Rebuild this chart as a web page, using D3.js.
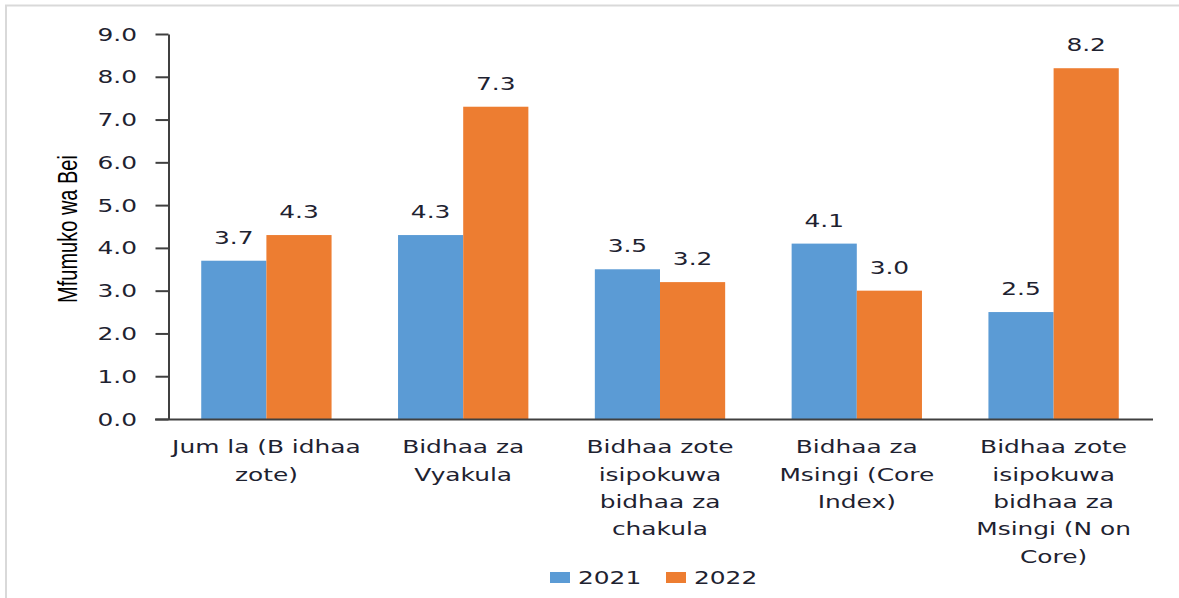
<!DOCTYPE html>
<html>
<head>
<meta charset="utf-8">
<script src="https://cdn.jsdelivr.net/npm/d3@7"></script>
<style>
  body { margin: 0; background: #fff; }
</style>
</head>
<body>
<div id="chart"></div>
<script>
// data
const categories = [
  ["Jum la (B idhaa", "zote)"],
  ["Bidhaa za", "Vyakula"],
  ["Bidhaa zote", "isipokuwa", "bidhaa za", "chakula"],
  ["Bidhaa za", "Msingi (Core", "Index)"],
  ["Bidhaa zote", "isipokuwa", "bidhaa za", "Msingi (N on", "Core)"]
];
const series = ["2021", "2022"];
const values2021 = [3.7, 4.3, 3.5, 4.1, 2.5];
const values2022 = [4.3, 7.3, 3.2, 3.0, 8.2];
const yTicks = [0, 1, 2, 3, 4, 5, 6, 7, 8, 9];
const colors = ["#5B9BD5", "#ED7D31"];

const width = 1179, height = 598;
const sx = 1.38; // the original text is drawn wide
const font = "Verdana, 'DejaVu Sans', sans-serif";
const textColor = "#1e2230";

const svg = d3.select("#chart").append("svg")
    .attr("width", width)
    .attr("height", height);

// outer frame
svg.append("rect")
    .attr("x", 6).attr("y", 5.5)
    .attr("width", width).attr("height", height)
    .attr("fill", "none")
    .attr("stroke", "#d9d9d9")
    .attr("stroke-width", 2);

// scales
const x0 = d3.scaleBand()
    .domain(d3.range(categories.length))
    .range([168, 1152]);

const x1 = d3.scaleBand()
    .domain(series)
    .range([0, x0.bandwidth()])
    .paddingOuter(0.51);

const y = d3.scaleLinear()
    .domain([0, 9])
    .range([419, 34]);

// y axis (labels drawn by hand so they can be stretched)
const yAxis = d3.axisLeft(y)
    .tickValues(yTicks)
    .tickSize(13)
    .tickSizeOuter(0)
    .tickFormat("");

svg.append("g")
    .attr("transform", "translate(168.5,0)")
    .call(yAxis)
    .call(g => g.selectAll("line, path").attr("stroke", "#404040").attr("stroke-width", 2));

svg.append("g").selectAll("text")
  .data(yTicks)
  .join("text")
    .attr("transform", d => `translate(137, ${y(d) + 6.5}) scale(${sx},1)`)
    .attr("text-anchor", "end")
    .attr("font-family", font)
    .attr("font-size", 18)
    .attr("fill", textColor)
    .text(d3.format(".1f"));

svg.append("text")
    .attr("transform", `translate(77, 229) scale(${sx},1) rotate(-90)`)
    .attr("text-anchor", "middle")
    .attr("font-family", "'Liberation Sans', Arial, sans-serif")
    .attr("font-size", 20)
    .attr("fill", "#000")
    .text("Mfumuko wa Bei");

// bars
const rows = categories.map((c, i) => ({
  i: i,
  vals: [
    {key: series[0], value: values2021[i]},
    {key: series[1], value: values2022[i]}
  ]
}));

const groups = svg.selectAll(".grp")
  .data(rows)
  .join("g")
    .attr("class", "grp")
    .attr("transform", d => `translate(${x0(d.i)},0)`);

groups.selectAll("rect")
  .data(d => d.vals)
  .join("rect")
    .attr("x", d => x1(d.key))
    .attr("y", d => y(d.value))
    .attr("width", x1.bandwidth())
    .attr("height", d => y(0) - y(d.value))
    .attr("fill", (d, i) => colors[i]);

groups.selectAll(".val")
  .data(d => d.vals)
  .join("text")
    .attr("class", "val")
    .attr("transform", d => `translate(${x1(d.key) + x1.bandwidth() / 2}, ${y(d.value) - 17}) scale(${sx},1)`)
    .attr("text-anchor", "middle")
    .attr("font-family", font)
    .attr("font-size", 18)
    .attr("fill", textColor)
    .text(d => d.value.toFixed(1));

// x axis line
svg.append("line")
    .attr("x1", 155).attr("x2", 1153)
    .attr("y1", y(0) + 0.5).attr("y2", y(0) + 0.5)
    .attr("stroke", "#404040")
    .attr("stroke-width", 2);

// category labels
groups.append("text")
    .attr("transform", `translate(${x0.bandwidth() / 2},0) scale(${sx},1)`)
    .attr("text-anchor", "middle")
    .attr("font-family", font)
    .attr("font-size", 18)
    .attr("fill", textColor)
  .selectAll("tspan")
  .data(d => categories[d.i])
  .join("tspan")
    .attr("x", 0)
    .attr("y", (d, i) => 453.5 + i * 27.3)
    .text(d => d);

// legend
const legendPos = [550, 666];
const legend = svg.selectAll(".leg")
  .data(series)
  .join("g")
    .attr("class", "leg")
    .attr("transform", (d, i) => `translate(${legendPos[i]}, 572)`);

legend.append("rect")
    .attr("width", 20).attr("height", 11)
    .attr("fill", (d, i) => colors[i]);

legend.append("text")
    .attr("transform", `translate(28, 11.5) scale(${sx},1)`)
    .attr("font-family", font)
    .attr("font-size", 18)
    .attr("fill", textColor)
    .text(d => d);
</script>
</body>
</html>
